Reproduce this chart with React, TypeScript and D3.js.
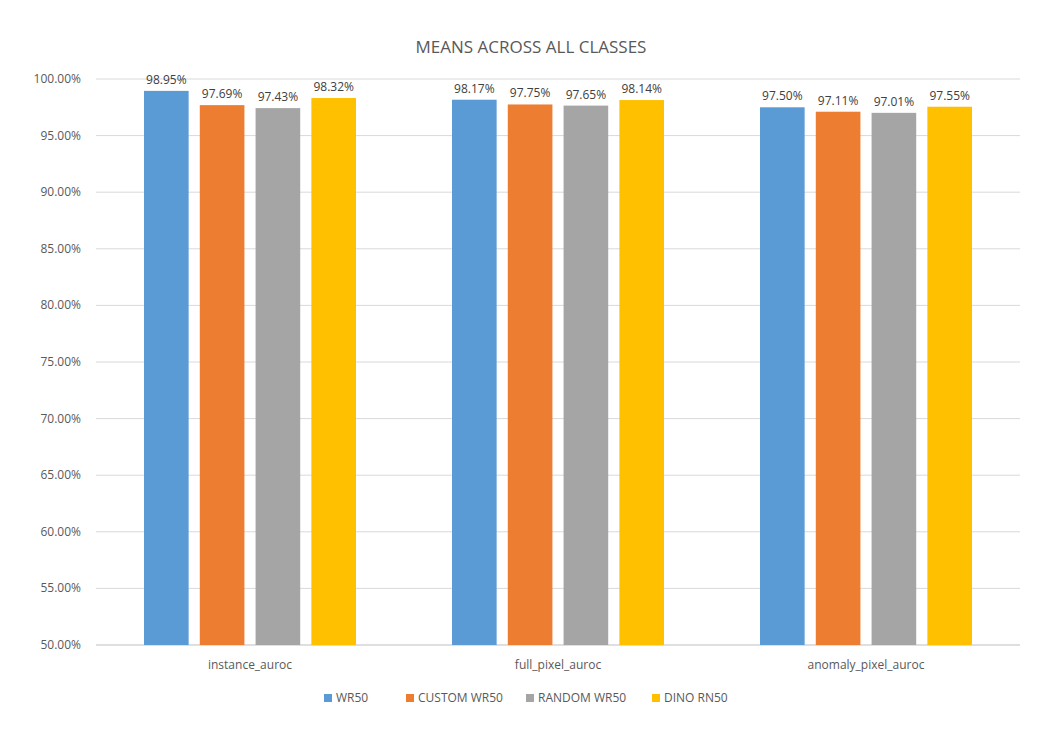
import { useEffect, useRef } from 'react';
import * as d3 from 'd3';

const categories = ['instance_auroc', 'full_pixel_auroc', 'anomaly_pixel_auroc'];
const seriesNames = ['WR50', 'CUSTOM WR50', 'RANDOM WR50', 'DINO RN50'];
const seriesColors = ['#5B9BD5', '#ED7D31', '#A5A5A5', '#FFC000'];
const wr50 = [98.95, 98.17, 97.5];
const customWr50 = [97.69, 97.75, 97.11];
const randomWr50 = [97.43, 97.65, 97.01];
const dinoRn50 = [98.32, 98.14, 97.55];
const yTicks = [50, 55, 60, 65, 70, 75, 80, 85, 90, 95, 100];

export default function App() {
  const svgRef = useRef<SVGSVGElement>(null);

  useEffect(() => {
    const svg = d3.select<SVGSVGElement, unknown>(svgRef.current!);
    svg.selectAll('*').remove();
    const font = 'Open Sans, Liberation Sans, sans-serif';
    const textColor = '#595959';
    const left = 96, right = 1020, top = 79, bottom = 645;
    const series = [wr50, customWr50, randomWr50, dinoRn50];

    svg.append('rect').attr('width', 1062).attr('height', 747).attr('fill', '#fff');

    const x = d3.scaleBand<string>().domain(categories).range([left, right]);
    const y = d3.scaleLinear().domain([50, 100]).range([bottom, top]);
    const inner = d3.scaleBand<number>().domain([0, 1, 2, 3]).range([0, 212]).paddingInner(0.2);

    // Gridlines and y labels
    yTicks.forEach(t => {
      svg.append('line').attr('x1', left).attr('x2', right)
        .attr('y1', y(t)).attr('y2', y(t))
        .attr('stroke', t === 50 ? '#bfbfbf' : '#d9d9d9').attr('stroke-width', 1);
      svg.append('text').attr('x', 81).attr('y', y(t) + 4).attr('text-anchor', 'end')
        .attr('font-family', font).attr('font-size', 12).attr('fill', textColor)
        .text(t.toFixed(2) + '%');
    });

    categories.forEach((c, ci) => {
      const gx = x(c)! + (x.bandwidth() - 212) / 2;
      series.forEach((s, si) => {
        const bx = gx + inner(si)!;
        svg.append('rect').attr('x', bx).attr('y', y(s[ci]))
          .attr('width', inner.bandwidth()).attr('height', bottom - y(s[ci]))
          .attr('fill', seriesColors[si]);
        svg.append('text').attr('x', bx + inner.bandwidth() / 2).attr('y', y(s[ci]) - 7)
          .attr('text-anchor', 'middle').attr('font-family', font).attr('font-size', 12)
          .attr('fill', '#404040').text(s[ci].toFixed(2) + '%');
      });
      svg.append('text').attr('x', x(c)! + x.bandwidth() / 2).attr('y', 669)
        .attr('text-anchor', 'middle').attr('font-family', font).attr('font-size', 12)
        .attr('fill', textColor).text(c);
    });

    svg.append('text').attr('x', 531).attr('y', 53).attr('text-anchor', 'middle')
      .attr('font-family', font).attr('font-size', 17).attr('fill', textColor)
      .text('MEANS ACROSS ALL CLASSES');

    // Legend
    const legendX = [324, 406, 526, 652];
    seriesNames.forEach((n, i) => {
      svg.append('rect').attr('x', legendX[i]).attr('y', 694).attr('width', 8).attr('height', 8)
        .attr('fill', seriesColors[i]);
      svg.append('text').attr('x', legendX[i] + 12).attr('y', 702)
        .attr('font-family', font).attr('font-size', 12).attr('fill', textColor).text(n);
    });
  }, []);

  return (
    <svg ref={svgRef} width={1062} height={747}
      style={{ position: 'absolute', left: 0, top: 0 }} />
  );
}
